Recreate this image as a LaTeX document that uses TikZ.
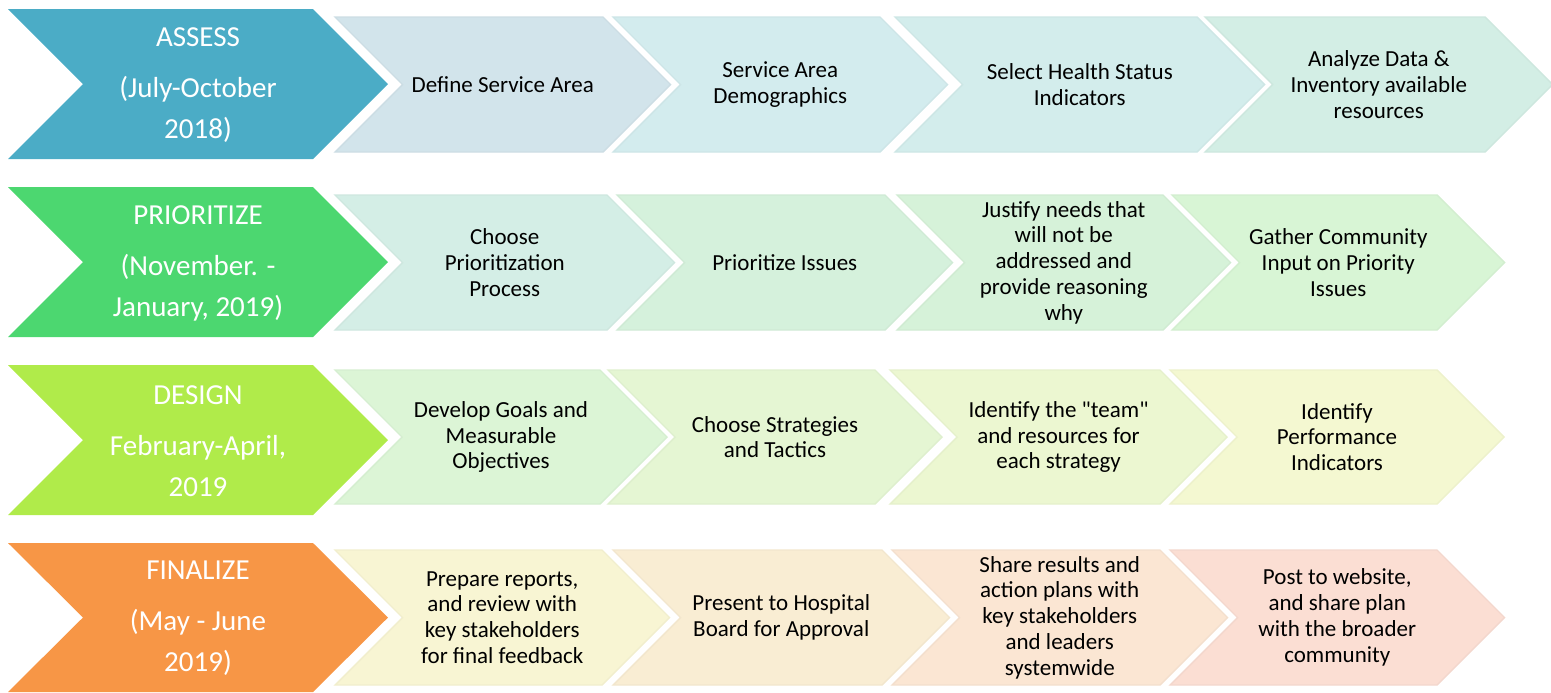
\documentclass[tikz,border=0pt]{standalone}
\usepackage{fontspec}
\setmainfont{Carlito}[Ligatures=TeXOff]

\definecolor{assess}{HTML}{4BACC6}
\definecolor{prioritize}{HTML}{4CD770}
\definecolor{design}{HTML}{B0EB4A}
\definecolor{finalize}{HTML}{F79646}
\definecolor{a1}{HTML}{D2E4EB}\definecolor{a2}{HTML}{D3ECEE}\definecolor{a3}{HTML}{D3EDEC}\definecolor{a4}{HTML}{D3EEE5}
\definecolor{p1}{HTML}{D4EEE6}\definecolor{p2}{HTML}{D5F1DC}\definecolor{p3}{HTML}{D6F2D9}\definecolor{p4}{HTML}{D8F5D5}
\definecolor{d1}{HTML}{DCF5D6}\definecolor{d2}{HTML}{E5F6D3}\definecolor{d3}{HTML}{ECF7D1}\definecolor{d4}{HTML}{F4F8D1}
\definecolor{f1}{HTML}{F8F5D3}\definecolor{f2}{HTML}{F9EDD3}\definecolor{f3}{HTML}{FBE6D3}\definecolor{f4}{HTML}{FBDED3}

\tikzset{
  phase/.style={text=white, align=center, font=\fontsize{14.5}{20.5}\selectfont},
  task/.style={text=black, align=center, font=\fontsize{11.5}{12.9}\selectfont},
}

% #1 top, #2 bottom, #3 colour, #4 name, #5 text
\newcommand{\phasechev}[5]{%
  \pgfmathsetmacro{\chevmid}{(#1+#2)/2}
  \fill[#3] (8,#1) -- (313,#1) -- (388,\chevmid) -- (313,#2) -- (8,#2) -- (83,\chevmid) -- cycle;
  \node[phase] (#4) at (198,{\chevmid+1}) {#5};
}
% #1 left, #2 corner, #3 top, #4 bottom, #5 colour, #6 name, #7 text
\newcommand{\taskchev}[7]{%
  \pgfmathsetmacro{\chevmid}{(#3+#4)/2}
  \pgfmathsetmacro{\chevd}{(#4-#3)/2}
  \fill[#5, draw=#5!97!black, line width=0.7pt] (#1,#3) -- (#2,#3) -- ({#2+\chevd},\chevmid) -- (#2,#4) -- (#1,#4) -- ({#1+\chevd},\chevmid) -- cycle;
  \node[task] (#6) at ({(#1+#2+\chevd)/2},\chevmid) {#7};
}

\begin{document}
\begin{tikzpicture}[x=0.5pt, y=-0.5pt]
  \useasboundingbox (0,0) rectangle (1551,692);

  \phasechev{9}{159}{assess}{assess}{ASSESS\\[5pt](July-October\\2018)}
  \taskchev{335}{603}{17}{152}{a1}{define}{Define Service Area}
  \taskchev{613}{880}{17}{152}{a2}{demog}{Service Area\\Demographics}
  \taskchev{895}{1197}{17}{152}{a3}{select}{Select Health Status\\Indicators}
  \taskchev{1205}{1485}{17}{152}{a4}{analyze}{Analyze Data \&\\Inventory available\\resources}

  \phasechev{187}{337}{prioritize}{prioritize}{PRIORITIZE\\[5pt](November. -\\January, 2019)}
  \taskchev{335}{607}{195}{330}{p1}{choose}{Choose\\Prioritization\\Process}
  \taskchev{617}{885}{195}{330}{p2}{issues}{Prioritize Issues}
  \taskchev{897}{1163}{195}{330}{p3}{justify}{Justify needs that\\will not be\\addressed and\\provide reasoning\\why}
  \taskchev{1172}{1437}{195}{330}{p4}{gather}{Gather Community\\Input on Priority\\Issues}

  \phasechev{365}{515}{design}{design}{DESIGN\\[5pt]February-April,\\2019}
  \taskchev{335}{600}{370}{504}{d1}{goals}{Develop Goals and\\Measurable\\Objectives}
  \taskchev{608}{875}{370}{504}{d2}{strategies}{Choose Strategies\\and Tactics}
  \taskchev{890}{1160}{370}{504}{d3}{team}{Identify the "team"\\and resources for\\each strategy}
  \taskchev{1170}{1437}{370}{504}{d4}{indicators}{Identify\\Performance\\Indicators}

  \phasechev{543}{692}{finalize}{finalize}{FINALIZE\\[5pt](May - June\\2019)}
  \taskchev{335}{602}{550}{685}{f1}{reports}{Prepare reports,\\and review with\\key stakeholders\\for final feedback}
  \taskchev{613}{882}{550}{685}{f2}{board}{Present to Hospital\\Board for Approval}
  \taskchev{892}{1160}{550}{685}{f3}{share}{Share results and\\action plans with\\key stakeholders\\and leaders\\systemwide}
  \taskchev{1170}{1437}{550}{685}{f4}{website}{Post to website,\\and share plan\\with the broader\\community}
\end{tikzpicture}
\end{document}
